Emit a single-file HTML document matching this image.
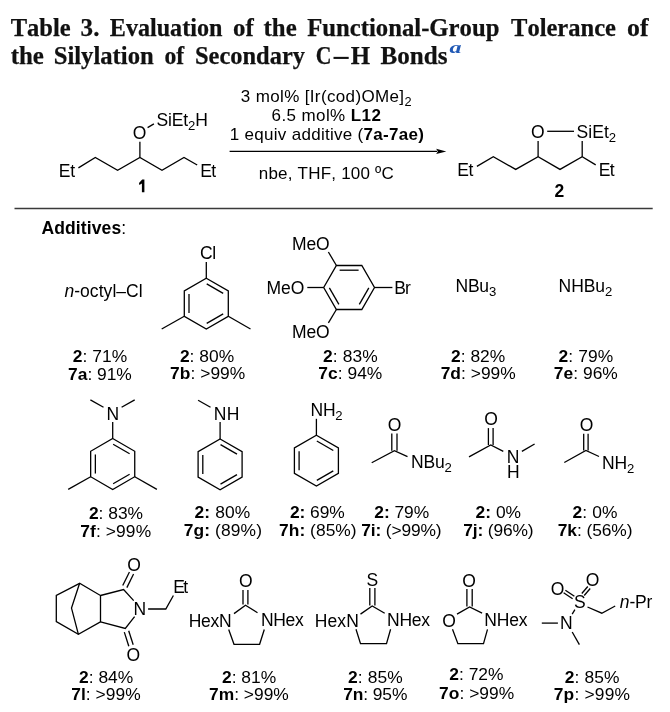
<!DOCTYPE html>
<html><head><meta charset="utf-8">
<style>
html,body{margin:0;padding:0;background:#fff;}
body{width:670px;height:712px;position:relative;overflow:hidden;}
svg{position:absolute;left:0;top:0;will-change:transform;}
svg text{font-family:"Liberation Sans",sans-serif;fill:#000;font-kerning:none;}
svg text.ti{font-family:"Liberation Serif",serif;font-weight:bold;fill:#111;stroke:#111;stroke-width:0.25px;}
svg path{fill:none;stroke:#000;stroke-width:1.3;stroke-linejoin:miter;stroke-linecap:butt;}
</style></head><body>
<svg width="670" height="712" viewBox="0 0 670 712">
<text x="58.66" y="177.20" font-size="17.50" style="letter-spacing:-0.071px"><tspan>Et</tspan></text>
<path d="M78.40 167.90 L95.30 157.50 L117.60 170.20 L139.90 157.50 L162.00 170.20 L184.00 157.50 L197.20 165.00"/>
<path d="M139.90 157.50 L139.90 141.80"/>
<text x="132.87" y="138.80" font-size="17.50"><tspan>O</tspan></text>
<path d="M147.60 127.60 L153.90 123.90"/>
<text x="156.51" y="126.40" font-size="17.50" style="letter-spacing:-0.122px"><tspan>SiEt</tspan><tspan font-size="13.12" baseline-shift="-4.38">2</tspan><tspan>H</tspan></text>
<text x="200.26" y="177.20" font-size="17.50" style="letter-spacing:-0.771px"><tspan>Et</tspan></text>
<path d="M144.4 179.4 L142.2 179.4 L139.0 183.0 L139.3 184.9 L141.9 183.4 L141.9 192.2 L144.4 192.2 Z" style="fill:#000;stroke:none"/>
<text x="240.75" y="102.00" font-size="17.00" style="letter-spacing:0.363px"><tspan>3 mol% [Ir(cod)OMe]</tspan><tspan font-size="12.75" baseline-shift="-4.25">2</tspan></text>
<text x="271.54" y="121.10" font-size="17.00" style="letter-spacing:0.406px"><tspan>6.5 mol% </tspan><tspan font-weight="bold">L12</tspan></text>
<text x="229.81" y="140.30" font-size="17.00" style="letter-spacing:0.289px"><tspan>1 equiv additive (</tspan><tspan font-weight="bold">7a-7ae)</tspan></text>
<path d="M229.60 151.40 L437.00 151.40"/>
<path d="M446.3 151.4 L436.2 148.7 L437.8 151.4 L436.2 154.1 Z" style="fill:#000;stroke:none"/>
<text x="258.77" y="179.20" font-size="17.00" style="letter-spacing:0.207px"><tspan>nbe, THF, 100 ºC</tspan></text>
<text x="457.16" y="176.40" font-size="17.50" style="letter-spacing:-0.371px"><tspan>Et</tspan></text>
<path d="M476.90 166.40 L493.30 156.70 L515.70 169.40 L538.10 156.70 L560.00 169.40 L582.20 156.70 L595.70 164.90"/>
<path d="M538.10 156.70 L538.10 141.00"/>
<path d="M582.20 156.70 L582.20 141.00"/>
<text x="531.07" y="138.40" font-size="17.50"><tspan>O</tspan></text>
<path d="M547.20 131.30 L574.00 131.30"/>
<text x="576.61" y="137.60" font-size="17.50" style="letter-spacing:0.015px"><tspan>SiEt</tspan><tspan font-size="13.12" baseline-shift="-4.38">2</tspan></text>
<text x="598.86" y="176.40" font-size="17.50" style="letter-spacing:-0.671px"><tspan>Et</tspan></text>
<text x="554.39" y="196.60" font-size="17.50"><tspan font-weight="bold">2</tspan></text>
<path d="M14.5 208.4 L652.7 208.4" style="stroke:#3a3a3a;stroke-width:1.5"/>
<text x="41.56" y="234.10" font-size="17.50" style="letter-spacing:0.101px"><tspan font-weight="bold">Additives</tspan><tspan>:</tspan></text>
<text x="64.41" y="297.20" font-size="17.50" style="letter-spacing:0.051px"><tspan font-style="italic">n</tspan><tspan>-octyl–Cl</tspan></text>
<text x="200.01" y="258.90" font-size="17.50" style="letter-spacing:-0.367px"><tspan>Cl</tspan></text>
<path d="M206.30 278.20 L228.30 290.90 L228.30 316.30 L206.30 329.00 L184.30 316.30 L184.30 290.90 Z"/>
<path d="M206.72 283.87 L223.18 293.37"/>
<path d="M223.18 313.83 L206.72 323.33"/>
<path d="M189.00 313.10 L189.00 294.10"/>
<path d="M206.30 261.90 L206.30 278.20"/>
<path d="M184.30 316.30 L161.70 329.00"/>
<path d="M228.30 316.30 L250.50 329.00"/>
<text x="291.96" y="250.30" font-size="17.50" style="letter-spacing:-0.125px"><tspan>MeO</tspan></text>
<text x="266.56" y="294.40" font-size="17.50" style="letter-spacing:-0.075px"><tspan>MeO</tspan></text>
<text x="291.96" y="338.30" font-size="17.50" style="letter-spacing:-0.125px"><tspan>MeO</tspan></text>
<path d="M336.40 265.50 L361.80 265.50 L374.50 287.50 L361.80 309.50 L336.40 309.50 L323.70 287.50 Z"/>
<path d="M339.60 270.20 L358.60 270.20"/>
<path d="M368.83 287.92 L359.33 304.38"/>
<path d="M338.87 304.38 L329.37 287.92"/>
<path d="M307.30 287.50 L323.70 287.50"/>
<path d="M328.40 252.00 L336.40 265.50"/>
<path d="M328.40 322.80 L336.40 309.50"/>
<path d="M374.50 287.50 L392.40 287.50"/>
<text x="394.36" y="293.70" font-size="17.50" style="letter-spacing:-0.974px"><tspan>Br</tspan></text>
<text x="455.56" y="292.00" font-size="17.50" style="letter-spacing:-0.243px"><tspan>NBu</tspan><tspan font-size="13.12" baseline-shift="-4.38">3</tspan></text>
<text x="558.56" y="292.00" font-size="17.50" style="letter-spacing:-0.046px"><tspan>NHBu</tspan><tspan font-size="13.12" baseline-shift="-4.38">2</tspan></text>
<text x="72.70" y="361.80" font-size="17.40" style="letter-spacing:0.050px"><tspan font-weight="bold">2</tspan><tspan>: 71%</tspan></text>
<text x="68.05" y="379.50" font-size="17.40" style="letter-spacing:-0.013px"><tspan font-weight="bold">7a</tspan><tspan>: 91%</tspan></text>
<text x="179.90" y="361.50" font-size="17.40" style="letter-spacing:0.010px"><tspan font-weight="bold">2</tspan><tspan>: 80%</tspan></text>
<text x="170.05" y="378.90" font-size="17.40" style="letter-spacing:0.044px"><tspan font-weight="bold">7b</tspan><tspan>: &gt;99%</tspan></text>
<text x="322.90" y="361.50" font-size="17.40" style="letter-spacing:0.150px"><tspan font-weight="bold">2</tspan><tspan>: 83%</tspan></text>
<text x="318.35" y="378.90" font-size="17.40" style="letter-spacing:0.020px"><tspan font-weight="bold">7c</tspan><tspan>: 94%</tspan></text>
<text x="450.90" y="361.50" font-size="17.40" style="letter-spacing:0.050px"><tspan font-weight="bold">2</tspan><tspan>: 82%</tspan></text>
<text x="440.65" y="378.90" font-size="17.40" style="letter-spacing:0.030px"><tspan font-weight="bold">7d</tspan><tspan>: &gt;99%</tspan></text>
<text x="558.50" y="361.50" font-size="17.40" style="letter-spacing:0.130px"><tspan font-weight="bold">2</tspan><tspan>: 79%</tspan></text>
<text x="553.85" y="378.90" font-size="17.40" style="letter-spacing:0.020px"><tspan font-weight="bold">7e</tspan><tspan>: 96%</tspan></text>
<text x="106.56" y="419.90" font-size="17.50"><tspan>N</tspan></text>
<path d="M103.50 407.30 L90.40 399.90"/>
<path d="M121.60 407.30 L134.70 399.90"/>
<path d="M112.70 438.55 L134.74 451.27 L134.74 476.73 L112.70 489.45 L90.66 476.73 L90.66 451.27 Z"/>
<path d="M113.12 444.22 L129.62 453.75"/>
<path d="M129.62 474.25 L113.12 483.78"/>
<path d="M95.36 473.53 L95.36 454.47"/>
<path d="M112.70 422.10 L112.70 438.55"/>
<path d="M90.66 476.73 L68.20 489.40"/>
<path d="M134.74 476.73 L156.90 489.40"/>
<text x="213.86" y="419.90" font-size="17.50" style="letter-spacing:0.287px"><tspan>NH</tspan></text>
<path d="M210.50 407.30 L198.10 400.30"/>
<path d="M220.10 439.00 L242.10 451.70 L242.10 477.10 L220.10 489.80 L198.10 477.10 L198.10 451.70 Z"/>
<path d="M220.52 444.67 L236.98 454.17"/>
<path d="M236.98 474.63 L220.52 484.13"/>
<path d="M202.80 473.90 L202.80 454.90"/>
<path d="M220.10 422.10 L220.10 439.00"/>
<text x="310.46" y="415.80" font-size="17.50" style="letter-spacing:-0.190px"><tspan>NH</tspan><tspan font-size="13.12" baseline-shift="-4.38">2</tspan></text>
<path d="M316.40 435.30 L338.40 448.00 L338.40 473.40 L316.40 486.10 L294.40 473.40 L294.40 448.00 Z"/>
<path d="M316.82 440.97 L333.28 450.47"/>
<path d="M333.28 470.93 L316.82 480.43"/>
<path d="M299.10 470.20 L299.10 451.20"/>
<path d="M316.40 418.80 L316.40 435.30"/>
<text x="387.67" y="430.90" font-size="17.50"><tspan>O</tspan></text>
<path d="M391.80 433.60 L391.80 450.70"/>
<path d="M397.00 433.60 L397.00 450.70"/>
<path d="M371.70 462.70 L394.40 450.70 L407.50 456.70"/>
<text x="410.96" y="468.20" font-size="17.50" style="letter-spacing:-0.149px"><tspan>NBu</tspan><tspan font-size="13.12" baseline-shift="-4.38">2</tspan></text>
<text x="484.17" y="425.20" font-size="17.50"><tspan>O</tspan></text>
<path d="M488.40 428.10 L488.40 445.00"/>
<path d="M493.10 428.10 L493.10 445.00"/>
<path d="M469.00 456.90 L490.75 445.00 L503.30 451.40"/>
<text x="506.76" y="463.20" font-size="17.50"><tspan>N</tspan></text>
<text x="506.96" y="477.70" font-size="17.50"><tspan>H</tspan></text>
<path d="M521.90 451.40 L534.60 444.00"/>
<text x="579.67" y="430.80" font-size="17.50"><tspan>O</tspan></text>
<path d="M583.70 433.80 L583.70 450.50"/>
<path d="M588.10 433.80 L588.10 450.50"/>
<path d="M564.30 462.50 L585.90 450.50 L599.00 456.50"/>
<text x="602.06" y="468.70" font-size="17.50" style="letter-spacing:-0.140px"><tspan>NH</tspan><tspan font-size="13.12" baseline-shift="-4.38">2</tspan></text>
<text x="88.90" y="519.10" font-size="17.40"><tspan font-weight="bold">2</tspan><tspan>: 83%</tspan></text>
<text x="80.25" y="536.60" font-size="17.40" style="letter-spacing:0.106px"><tspan font-weight="bold">7f</tspan><tspan>: &gt;99%</tspan></text>
<text x="194.60" y="517.50" font-size="17.40" style="letter-spacing:0.078px"><tspan font-weight="bold">2:</tspan><tspan> 80%</tspan></text>
<text x="183.65" y="535.90" font-size="17.40" style="letter-spacing:0.122px"><tspan font-weight="bold">7g:</tspan><tspan> (89%)</tspan></text>
<text x="289.90" y="517.50" font-size="17.40" style="letter-spacing:-0.042px"><tspan font-weight="bold">2:</tspan><tspan> 69%</tspan></text>
<text x="279.05" y="535.90" font-size="17.40" style="letter-spacing:0.035px"><tspan font-weight="bold">7h:</tspan><tspan> (85%)</tspan></text>
<text x="374.30" y="517.50" font-size="17.40" style="letter-spacing:-0.062px"><tspan font-weight="bold">2:</tspan><tspan> 79%</tspan></text>
<text x="361.35" y="535.90" font-size="17.40" style="letter-spacing:-0.154px"><tspan font-weight="bold">7i:</tspan><tspan> (&gt;99%)</tspan></text>
<text x="475.60" y="517.50" font-size="17.40"><tspan font-weight="bold">2:</tspan><tspan> 0%</tspan></text>
<text x="463.35" y="535.90" font-size="17.40" style="letter-spacing:-0.166px"><tspan font-weight="bold">7j:</tspan><tspan> (96%)</tspan></text>
<text x="572.60" y="517.50" font-size="17.40" style="letter-spacing:0.082px"><tspan font-weight="bold">2</tspan><tspan>: 0%</tspan></text>
<text x="557.75" y="535.90" font-size="17.40" style="letter-spacing:-0.076px"><tspan font-weight="bold">7k</tspan><tspan>: (56%)</tspan></text>
<path d="M79.60 583.30 L56.30 595.50 L56.30 621.60 L78.40 634.30 L100.50 621.80 L100.50 595.50 Z"/>
<path d="M79.60 583.30 L71.50 608.10 L78.40 634.30"/>
<path d="M100.50 595.50 L123.60 589.60 L133.70 600.60"/>
<path d="M100.50 621.80 L125.30 628.40 L134.60 616.60"/>
<path d="M126.86 587.62 L133.56 574.02"/>
<path d="M122.74 585.58 L129.44 571.98"/>
<path d="M124.31 632.10 L128.81 646.20"/>
<path d="M128.69 630.70 L133.19 644.80"/>
<text x="127.37" y="571.40" font-size="17.50"><tspan>O</tspan></text>
<text x="126.57" y="660.80" font-size="17.50"><tspan>O</tspan></text>
<text x="133.56" y="615.20" font-size="17.50"><tspan>N</tspan></text>
<path d="M148.10 609.00 L165.80 609.00 L173.40 595.50"/>
<text x="173.16" y="593.30" font-size="17.50" style="letter-spacing:-1.471px"><tspan>Et</tspan></text>
<text x="238.97" y="586.50" font-size="17.50"><tspan>O</tspan></text>
<path d="M243.00 589.90 L243.00 604.50"/>
<path d="M247.90 589.90 L247.90 604.50"/>
<path d="M234.00 613.60 L245.50 605.30 L257.50 612.70"/>
<text x="188.66" y="627.30" font-size="17.50" style="letter-spacing:-0.232px"><tspan>HexN</tspan></text>
<text x="260.96" y="625.80" font-size="17.50" style="letter-spacing:-0.312px"><tspan>NHex</tspan></text>
<path d="M228.70 629.50 L234.00 644.30 L259.60 644.30 L264.30 629.50"/>
<text x="366.41" y="585.70" font-size="17.50"><tspan>S</tspan></text>
<path d="M369.80 588.10 L369.80 605.50"/>
<path d="M374.90 588.10 L374.90 605.50"/>
<path d="M360.50 614.10 L372.20 606.00 L384.70 613.20"/>
<text x="314.66" y="626.60" font-size="17.50" style="letter-spacing:0.135px"><tspan>HexN</tspan></text>
<text x="387.06" y="626.00" font-size="17.50" style="letter-spacing:-0.278px"><tspan>NHex</tspan></text>
<path d="M356.00 629.30 L360.50 643.70 L386.50 643.70 L390.60 629.30"/>
<text x="462.37" y="586.60" font-size="17.50"><tspan>O</tspan></text>
<path d="M466.90 589.00 L466.90 606.50"/>
<path d="M472.20 589.00 L472.20 606.50"/>
<path d="M457.00 614.10 L469.60 607.00 L482.10 613.20"/>
<text x="442.27" y="626.90" font-size="17.50"><tspan>O</tspan></text>
<text x="484.16" y="626.00" font-size="17.50" style="letter-spacing:-0.145px"><tspan>NHex</tspan></text>
<path d="M452.50 629.30 L457.90 643.70 L483.50 643.70 L487.50 629.30"/>
<path d="M541.80 623.10 L557.90 623.10"/>
<text x="560.06" y="629.10" font-size="17.50"><tspan>N</tspan></text>
<path d="M572.20 614.10 L574.90 609.60"/>
<text x="574.01" y="608.10" font-size="17.50"><tspan>S</tspan></text>
<text x="550.67" y="595.10" font-size="17.50"><tspan>O</tspan></text>
<text x="585.77" y="585.70" font-size="17.50"><tspan>O</tspan></text>
<path d="M563.61 592.83 L572.61 598.83"/>
<path d="M565.39 590.17 L574.39 596.17"/>
<path d="M584.21 595.54 L590.21 588.54"/>
<path d="M581.79 593.46 L587.79 586.46"/>
<path d="M587.50 607.00 L601.80 613.20 L615.20 606.00"/>
<text x="619.81" y="608.10" font-size="17.50" style="letter-spacing:-0.160px"><tspan font-style="italic">n</tspan><tspan>-Pr</tspan></text>
<path d="M572.20 632.00 L579.40 644.60"/>
<text x="78.90" y="682.50" font-size="17.40" style="letter-spacing:0.050px"><tspan font-weight="bold">2</tspan><tspan>: 84%</tspan></text>
<text x="71.25" y="700.30" font-size="17.40" style="letter-spacing:0.043px"><tspan font-weight="bold">7l</tspan><tspan>: &gt;99%</tspan></text>
<text x="222.00" y="682.50" font-size="17.40"><tspan font-weight="bold">2</tspan><tspan>: 81%</tspan></text>
<text x="209.05" y="700.30" font-size="17.40"><tspan font-weight="bold">7m</tspan><tspan>: &gt;99%</tspan></text>
<text x="347.90" y="682.50" font-size="17.40" style="letter-spacing:0.150px"><tspan font-weight="bold">2</tspan><tspan>: 85%</tspan></text>
<text x="343.15" y="700.30" font-size="17.40" style="letter-spacing:-0.089px"><tspan font-weight="bold">7n</tspan><tspan>: 95%</tspan></text>
<text x="449.30" y="680.40" font-size="17.40"><tspan font-weight="bold">2</tspan><tspan>: 72%</tspan></text>
<text x="439.05" y="698.60" font-size="17.40" style="letter-spacing:0.030px"><tspan font-weight="bold">7o</tspan><tspan>: &gt;99%</tspan></text>
<text x="564.80" y="682.50" font-size="17.40" style="letter-spacing:0.090px"><tspan font-weight="bold">2</tspan><tspan>: 85%</tspan></text>
<text x="553.65" y="700.30" font-size="17.40" style="letter-spacing:0.215px"><tspan font-weight="bold">7p</tspan><tspan>: &gt;99%</tspan></text>
<text class="ti" x="10.70" y="36.00" font-size="25" textLength="60.00" lengthAdjust="spacingAndGlyphs">Table</text>
<text class="ti" x="80.60" y="36.00" font-size="25" textLength="18.80" lengthAdjust="spacingAndGlyphs">3.</text>
<text class="ti" x="109.80" y="36.00" font-size="25" textLength="112.60" lengthAdjust="spacingAndGlyphs">Evaluation</text>
<text class="ti" x="233.00" y="36.00" font-size="25" textLength="20.70" lengthAdjust="spacingAndGlyphs">of</text>
<text class="ti" x="263.60" y="36.00" font-size="25" textLength="33.10" lengthAdjust="spacingAndGlyphs">the</text>
<text class="ti" x="307.20" y="36.00" font-size="25" textLength="192.20" lengthAdjust="spacingAndGlyphs">Functional-Group</text>
<text class="ti" x="511.00" y="36.00" font-size="25" textLength="105.00" lengthAdjust="spacingAndGlyphs">Tolerance</text>
<text class="ti" x="627.00" y="36.00" font-size="25" textLength="21.50" lengthAdjust="spacingAndGlyphs">of</text>
<text class="ti" x="10.70" y="64.00" font-size="25" textLength="33.20" lengthAdjust="spacingAndGlyphs">the</text>
<text class="ti" x="53.70" y="64.00" font-size="25" textLength="100.00" lengthAdjust="spacingAndGlyphs">Silylation</text>
<text class="ti" x="164.50" y="64.00" font-size="25" textLength="19.70" lengthAdjust="spacingAndGlyphs">of</text>
<text class="ti" x="195.00" y="64.00" font-size="25" textLength="110.00" lengthAdjust="spacingAndGlyphs">Secondary</text>
<text class="ti" x="315.70" y="64.00" font-size="25" textLength="15.70" lengthAdjust="spacingAndGlyphs">C</text>
<text class="ti" x="350.80" y="64.00" font-size="25" textLength="19.30" lengthAdjust="spacingAndGlyphs">H</text>
<text class="ti" x="380.60" y="64.00" font-size="25" textLength="66.90" lengthAdjust="spacingAndGlyphs">Bonds</text>
<path d="M333.5 57.9 L348.7 57.9" style="stroke:#111;stroke-width:2.1"/>
<text x="449.6" y="53.4" font-size="17.5" style="fill:#2159b5;font-family:'Liberation Serif',serif;font-weight:bold;font-style:italic" textLength="12" lengthAdjust="spacingAndGlyphs">a</text>
</svg>
</body></html>
